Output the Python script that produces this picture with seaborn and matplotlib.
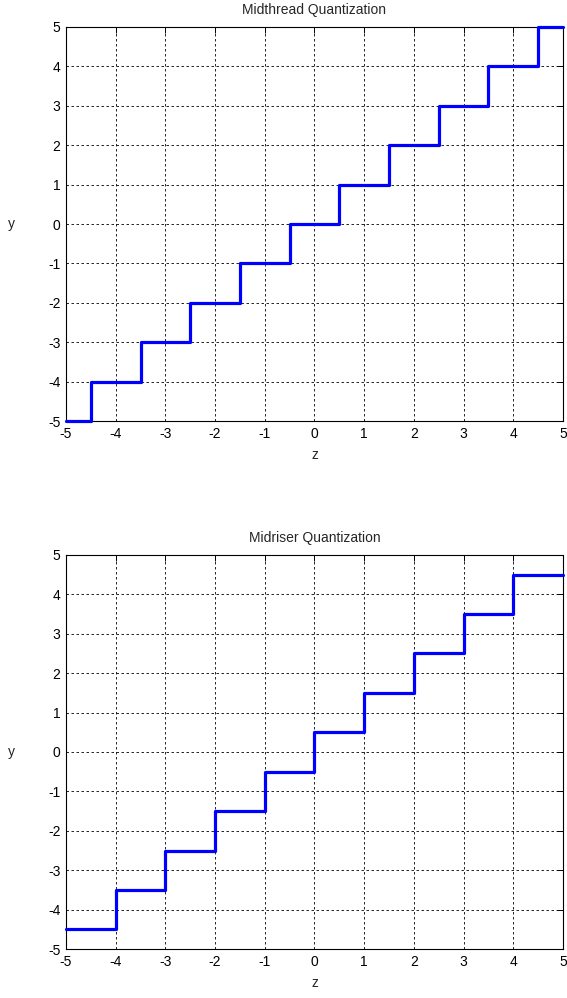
import pandas as pd
import numpy as np
import matplotlib.pyplot as plt
import seaborn as sns

# step edges (z) and the output level that starts at each edge
midtread_z = [-5, -4.5, -3.5, -2.5, -1.5, -0.5, 0.5, 1.5, 2.5, 3.5, 4.5, 5]
midtread_y = [-5, -4, -3, -2, -1, 0, 1, 2, 3, 4, 5, 5]

midriser_z = [-5, -4, -3, -2, -1, 0, 1, 2, 3, 4, 5]
midriser_y = [-4.5, -3.5, -2.5, -1.5, -0.5, 0.5, 1.5, 2.5, 3.5, 4.5, 4.5]

ticks = [-5, -4, -3, -2, -1, 0, 1, 2, 3, 4, 5]

sns.set_style("white")
plt.rcParams['font.family'] = ['Liberation Sans', 'DejaVu Sans']
plt.rcParams['font.size'] = 10

fig = plt.figure(figsize=(5.67, 9.98), dpi=100)
ax1 = fig.add_axes([0.1164, 0.578, 0.8765, 0.395])
ax2 = fig.add_axes([0.1164, 0.049, 0.8765, 0.395])

panels = [
    (ax1, midtread_z, midtread_y, "Midthread Quantization"),
    (ax2, midriser_z, midriser_y, "Midriser Quantization"),
]

for ax, zs, ys, title in panels:
    df = pd.DataFrame({"z": zs, "y": ys})
    sns.lineplot(data=df, x="z", y="y", ax=ax, color="#0000ff",
                 linewidth=2.3, drawstyle="steps-post", sort=False,
                 estimator=None, clip_on=False, zorder=3)
    ax.set_xlim(-5, 5)
    ax.set_ylim(-5, 5)
    ax.set_xticks(ticks)
    ax.set_yticks(ticks)
    ax.set_xticklabels([str(t) for t in ticks])
    ax.set_yticklabels([str(t) for t in ticks])
    ax.grid(True, color="black", linestyle=(0, (3, 3)), linewidth=0.6)
    ax.tick_params(direction="in", length=4, width=0.7, top=True, right=True,
                   labelsize=10, pad=4, colors="black")
    for s in ax.spines.values():
        s.set_color("black")
        s.set_linewidth(0.8)
    ax.set_title(title, fontsize=10, pad=9)
    ax.set_xlabel("z", fontsize=10, labelpad=5)
    ax.set_ylabel("y", fontsize=10, rotation=0, labelpad=26, va="center")

fig.savefig("out.png", dpi=100)
